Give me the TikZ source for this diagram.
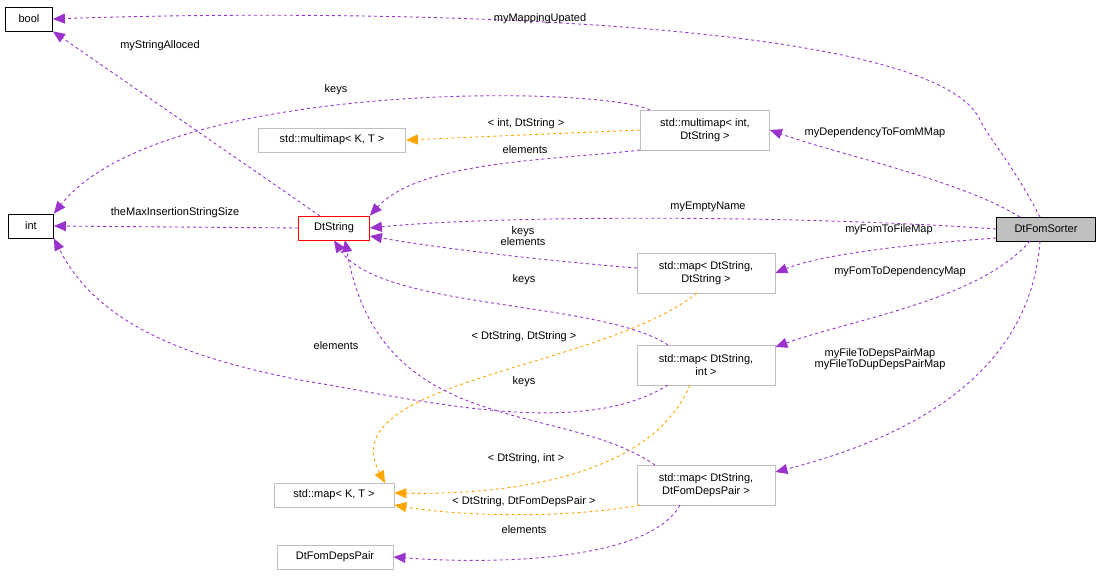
\documentclass[tikz,border=0pt]{standalone}
\usepackage{fontspec}
\setmainfont{Liberation Sans}
\usetikzlibrary{arrows.meta}
\definecolor{pur}{HTML}{9A32CD}
\definecolor{org}{HTML}{FFA500}
\definecolor{gb}{HTML}{BFBFBF}
\begin{document}
\begin{tikzpicture}[x=1pt,y=-1pt,font=\fontsize{11}{12.5}\selectfont,
 box/.style={draw=gb,fill=white,inner sep=0pt,align=center,line width=0.8pt},
 mem/.style={pur,dashed,line width=0.9pt,-{Triangle[length=12pt,width=10pt]}},
 tpl/.style={org,dashed,line width=0.9pt,-{Triangle[length=12pt,width=10pt]}},
 lb/.style={text=black,inner sep=1pt,align=center}]
\useasboundingbox (0,0) rectangle (1101,577);
\node[box,draw=black,minimum width=47pt,minimum height=24pt] (bool) at (29,19) {bool};
\node[box,draw=black,minimum width=45pt,minimum height=24pt] (int) at (31,226) {int};
\node[box,draw=red,minimum width=71pt,minimum height=24pt] (ds) at (334,228) {DtString};
\node[box,minimum width=147pt,minimum height=24pt] (mmkt) at (332,140) {std::multimap< K, T >};
\node[box,minimum width=129pt,minimum height=40pt] (mmi) at (705,130) {std::multimap< int,\\DtString >};
\node[box,draw=black,fill=gb,minimum width=99pt,minimum height=24pt] (fs) at (1046,229) {DtFomSorter};
\node[box,minimum width=138pt,minimum height=40pt] (mss) at (706,273) {std::map< DtString,\\DtString >};
\node[box,minimum width=138pt,minimum height=40pt] (msi) at (706,365) {std::map< DtString,\\int >};
\node[box,minimum width=120pt,minimum height=24pt] (mkt) at (334,495) {std::map< K, T >};
\node[box,minimum width=138pt,minimum height=40pt] (msd) at (706,485) {std::map< DtString,\\DtFomDepsPair >};
\node[box,minimum width=116pt,minimum height=24pt] (dp) at (335,557) {DtFomDepsPair};

\draw[mem] (1040,217) .. controls (1010,160) and (990,140) .. (980,120) .. controls (930,10) and (300,10) .. (bool.east);
\node[lb] at (540,19) {myMappingUpated};
\draw[mem] (320,216) -- (bool.south east);
\node[lb] at (160,46) {myStringAlloced};
\draw[mem] (650,110) .. controls (600,85) and (160,80) .. (int.north east);
\node[lb] at (336,90) {keys};
\draw[tpl] (mmi.west) -- (mmkt.east);
\node[lb] at (526,124) {< int, DtString >};
\draw[mem] (640,150) .. controls (560,160) and (420,160) .. (ds.north east);
\node[lb] at (525,150) {elements};
\draw[mem] (1020,217) .. controls (960,180) and (840,155) .. (mmi.east);
\node[lb] at (875,133) {myDependencyToFomMMap};
\draw[mem] (ds.west) -- (int.east);
\node[lb] at (175,213) {theMaxInsertionStringSize};
\draw[mem] (fs.west) .. controls (800,215) and (500,215) .. (ds.east);
\node[lb] at (708,207) {myEmptyName};
\draw[mem] (fs.west|-0,238) .. controls (900,245) and (820,255) .. (mss.east);
\node[lb] at (889,230) {myFomToFileMap};
\draw[mem] (637,268) .. controls (560,262) and (450,250) .. (ds.east|-0,236);
\node[lb] at (523,236) {keys\\[-2pt]elements};
\draw[mem] (1030,241) .. controls (980,300) and (850,320) .. (mss.east|-0,347);
\node[lb] at (900,272) {myFomToDependencyMap};
\draw[mem] (668,345) .. controls (600,300) and (380,310) .. (ds.south);
\node[lb] at (524,280) {keys};
\draw[tpl] (697,293) .. controls (600,370) and (330,380) .. (385,483);
\node[lb] at (524,337) {< DtString, DtString >};
\draw[mem] (668,385) .. controls (580,440) and (420,400) .. (300,380) .. controls (200,360) and (100,330) .. (int.south east);
\node[lb] at (336,346) {elements};
\draw[tpl] (690,385) .. controls (650,480) and (500,495) .. (mkt.east|-0,493);
\node[lb] at (526,459) {< DtString, int >};
\draw[mem] (655,465) .. controls (560,400) and (380,440) .. (345,240);
\node[lb] at (524,382) {keys};
\draw[mem] (1040,241) .. controls (1030,380) and (900,440) .. (msd.east|-0,472);
\node[lb] at (880,359) {myFileToDepsPairMap\\[-2pt]myFileToDupDepsPairMap};
\draw[tpl] (640,505) .. controls (560,520) and (450,515) .. (mkt.east|-0,505);
\node[lb] at (524,502) {< DtString, DtFomDepsPair >};
\draw[mem] (680,505) .. controls (650,560) and (500,565) .. (dp.east);
\node[lb] at (524,530) {elements};
\end{tikzpicture}
\end{document}
